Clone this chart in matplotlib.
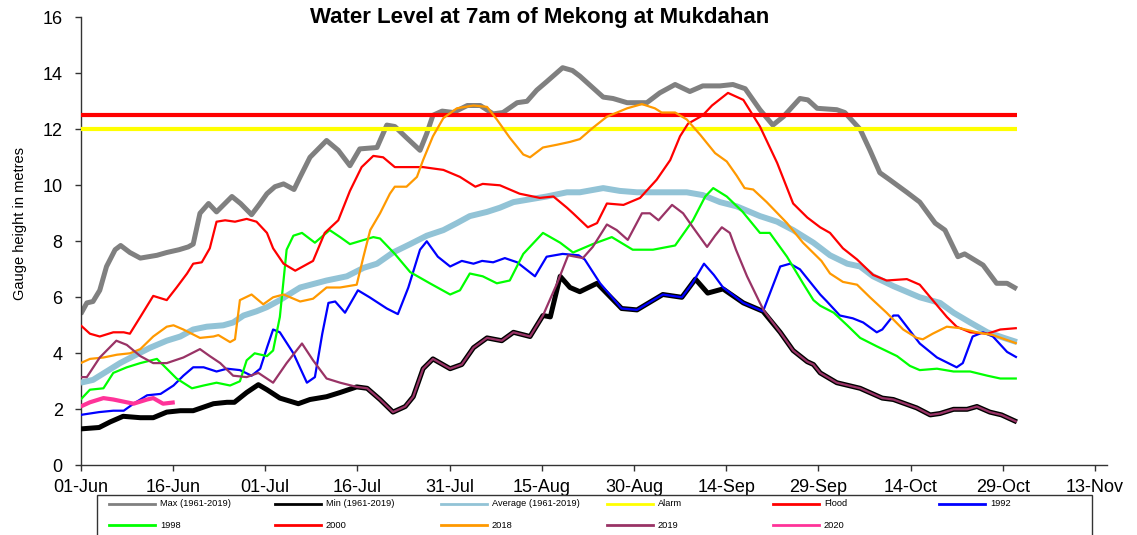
import matplotlib
matplotlib.use("Agg")
import matplotlib.pyplot as plt
from matplotlib.lines import Line2D
from matplotlib.patches import Rectangle

plt.rcParams['font.family'] = ['Liberation Sans', 'DejaVu Sans']

# ---------------- data (x = days since 01-Jun) ----------------
tick_days = [0, 15, 30, 45, 60, 75, 90, 105, 120, 135, 150, 165]
tick_labels = ["01-Jun", "16-Jun", "01-Jul", "16-Jul", "31-Jul", "15-Aug",
               "30-Aug", "14-Sep", "29-Sep", "14-Oct", "29-Oct", "13-Nov"]
y_ticks = [0, 2, 4, 6, 8, 10, 12, 14, 16]

max_days = [0, 1, 2, 3.1, 4.2, 5.6, 6.5, 8, 9.7, 12.4, 14, 16, 17.5, 18.3, 19.4, 20.8, 22.1,
            24.6, 26, 27.8, 29, 30.3, 31.6, 33, 34.7, 35.7, 37.3, 40, 41.9, 43.8, 45.4, 48.2,
            49.8, 51.1, 53, 55.2, 56.3, 57.3, 58.8, 60.6, 62.9, 65, 67.1, 68.7, 71, 72.6, 74.2,
            75.8, 78.4, 80, 81.2, 85, 86.6, 88.9, 92.1, 94.2, 96.7, 99.1, 101.2, 104, 106.1,
            108.1, 110.5, 112.6, 114.3, 117, 118.3, 119.8, 123, 124.3, 126.8, 128.4, 130, 131.6,
            134.4, 136.5, 139, 140.6, 142.7, 143.8, 146.8, 149, 150.7, 152.3]
max_vals = [5.4, 5.8, 5.85, 6.25, 7.1, 7.7, 7.85, 7.6, 7.4, 7.5, 7.6, 7.7, 7.8, 7.9, 9.0, 9.35, 9.05,
            9.6, 9.35, 8.95, 9.3, 9.7, 9.95, 10.05, 9.85, 10.3, 11.0, 11.6, 11.25, 10.7, 11.3, 11.35,
            12.15, 12.1, 11.7, 11.25, 11.85, 12.5, 12.65, 12.6, 12.85, 12.85, 12.55, 12.6, 12.95, 13.0, 13.4,
            13.7, 14.2, 14.1, 13.9, 13.15, 13.1, 12.95, 12.95, 13.3, 13.6, 13.35, 13.55, 13.55, 13.6,
            13.45, 12.7, 12.15, 12.45, 13.1, 13.05, 12.75, 12.7, 12.6, 12.0, 11.25, 10.45, 10.2,
            9.75, 9.4, 8.65, 8.4, 7.45, 7.55, 7.15, 6.5, 6.5, 6.3]

min_days = [0, 3, 4.8, 6.9, 9.7, 11.8, 14, 16.2, 18.3, 21.6, 23.8, 25, 27, 28.9, 30.3, 32.4, 35.4,
            37.3, 40, 42.2, 44.9, 46.6, 48.7, 50.8, 52.8, 54.1, 55.7, 57.3, 60.1, 62, 63.9, 66.1,
            68.5, 70.4, 73.1, 75.2, 76.4, 78, 79.6, 81.2, 84, 88, 90.5, 94.7, 97.8, 100, 102,
            104.5, 107.8, 111, 113.8, 115.9, 118.2, 119.2, 120.3, 123, 126.8, 130.4, 132.2, 136,
            138.2, 139.8, 142, 144.2, 145.8, 147.9, 149.8, 152.3]
min_vals = [1.3, 1.35, 1.55, 1.75, 1.7, 1.7, 1.9, 1.95, 1.95, 2.2, 2.25, 2.25, 2.6, 2.88, 2.7, 2.4, 2.2,
            2.35, 2.45, 2.6, 2.8, 2.75, 2.35, 1.9, 2.1, 2.45, 3.45, 3.8, 3.45, 3.6, 4.2, 4.55,
            4.45, 4.75, 4.6, 5.35, 5.3, 6.75, 6.35, 6.2, 6.5, 5.6, 5.55, 6.1, 6.0, 6.65, 6.15,
            6.3, 5.8, 5.5, 4.75, 4.1, 3.7, 3.6, 3.3, 2.95, 2.75, 2.4, 2.35, 2.05,
            1.8, 1.85, 2.0, 2.0, 2.1, 1.9, 1.8, 1.55]

avg_days = [0, 2, 4.2, 6.4, 8.6, 11.3, 14, 16.2, 18.3, 20.5, 23.2, 24.8, 26.5, 28.6, 30.3, 32.4,
            34.6, 35.7, 40, 43.3, 46, 48.2, 50.8, 53.6, 56.3, 59, 61.2, 63.3, 66.1, 68.2, 70.4,
            73.1, 75.8, 79.1, 81.2, 85, 87.7, 90.5, 94.2, 98.6, 101.2, 104, 106.7, 110.5, 113.3,
            115.9, 119.2, 121.9, 124.7, 126.8, 128.9, 132.2, 136.5, 139.8, 142, 144.7, 147.5,
            150.2, 152.3]
avg_vals = [2.95, 3.05, 3.35, 3.65, 3.9, 4.2, 4.45, 4.6, 4.85, 4.95, 5.0, 5.1, 5.35, 5.5, 5.65, 5.9,
            6.2, 6.35, 6.6, 6.75, 7.05, 7.2, 7.6, 7.9, 8.2, 8.4, 8.65, 8.9, 9.05, 9.2, 9.4,
            9.5, 9.6, 9.75, 9.75, 9.9, 9.8, 9.75, 9.75, 9.75, 9.65, 9.4, 9.25, 8.9, 8.7,
            8.4, 7.95, 7.5, 7.2, 7.1, 6.75, 6.4, 6.0, 5.8, 5.45, 5.1, 4.75,
            4.55, 4.4]

alarm_days = [0, 152.3]
alarm_vals = [12.0, 12.0]
flood_days = [0, 152.3]
flood_vals = [12.5, 12.5]

y1992_days = [0, 3, 5.3, 7, 8.6, 10.8, 13, 15.1, 16.7, 18.3, 20, 22.1, 23.8, 25.9, 27.8, 29.2, 30.3,
              31.3, 32.4, 34.6, 36.8, 38.1, 39.3, 40.3, 41.4, 43, 45.1, 47, 49.8, 51.6, 53.3, 55.2,
              56.3, 58.1, 60.1, 62, 63.9, 65.3, 67.1, 69, 71, 73.9, 75.8, 78.4, 81, 82, 84.5, 88,
              90.5, 94.7, 97.8, 99.5, 101.4, 103, 104.5, 107.8, 111, 113.8, 115.4, 117, 120.3,
              121.4, 123.5, 125.6, 127.3, 129.5, 130.4, 132.2, 133, 134.4, 136.5, 139.3, 142.5,
              143.5, 145.1, 146.8, 148.4, 150.7, 152.3]
y1992_vals = [1.8, 1.9, 1.95, 1.95, 2.2, 2.5, 2.55, 2.85, 3.2, 3.5, 3.5, 3.35, 3.45, 3.4, 3.2, 3.45, 4.2,
              4.85, 4.75, 4.0, 2.95, 3.15, 4.7, 5.8, 5.85, 5.45, 6.25, 6.0, 5.6, 5.4, 6.35, 7.7,
              8.0, 7.45, 7.1, 7.3, 7.2, 7.3, 7.25, 7.4, 7.25, 6.75, 7.45, 7.55, 7.5, 7.35, 6.5, 5.6,
              5.55, 6.1, 6.0, 6.5, 7.2, 6.8, 6.35, 5.8, 5.5, 7.1, 7.2, 7.0, 6.1,
              5.85, 5.35, 5.25, 5.1, 4.75, 4.85, 5.35, 5.35, 4.95, 4.35, 3.85, 3.5,
              3.65, 4.6, 4.75, 4.6, 4.05, 3.85]

y1998_days = [0, 1.5, 3.7, 5.3, 7.5, 9.7, 12.4, 14, 15.6, 18.1, 20, 22.1, 24.3, 25.9, 27, 28.3, 30.3,
              31.3, 32.4, 33.5, 34.6, 36, 38.1, 40.5, 42.2, 43.8, 47.6, 48.7, 51.1, 53.6, 56.8, 60.1,
              61.7, 63.3, 65.4, 67.7, 69.8, 72, 75.2, 78, 80.1, 83.3, 86.4, 89.8, 93.1, 96.7, 99.6,
              101.6, 102.9, 105.1, 107.7, 110.5, 112.1, 114.9, 117.5, 119.2, 120.3, 122.5, 124.7,
              126.8, 129.5, 132.8, 134.9, 136.5, 139.3, 142, 144.7, 147.5, 149.6, 152.3]
y1998_vals = [2.35, 2.7, 2.75, 3.3, 3.5, 3.65, 3.8, 3.45, 3.1, 2.75, 2.85, 2.95, 2.85, 3.0, 3.75, 4.0, 3.9,
              4.1, 5.3, 7.7, 8.2, 8.3, 7.95, 8.4, 8.15, 7.9, 8.15, 8.1, 7.55, 6.9, 6.5, 6.1,
              6.25, 6.85, 6.75, 6.5, 6.6, 7.55, 8.3, 7.95, 7.6, 7.9, 8.15, 7.7, 7.7, 7.85, 8.75,
              9.6, 9.9, 9.6, 9.05, 8.3, 8.3, 7.45, 6.5, 5.9, 5.7, 5.45, 5.0,
              4.55, 4.25, 3.9, 3.55, 3.4, 3.45, 3.35, 3.35, 3.2, 3.1, 3.1]

y2000_days = [0, 1.5, 3.1, 5.3, 7, 8, 9.7, 11.8, 14, 15.6, 17.3, 18.3, 19.7, 21, 22.1, 23.5, 25.1, 27,
              28.6, 30.3, 31.3, 33, 34.9, 37.8, 39.7, 41.9, 43.8, 45.7, 47.6, 49.2, 51.1, 53, 55.7,
              59, 61.7, 64.2, 65.4, 68.2, 71.4, 74.7, 76.9, 79.1, 80.1, 82.5, 84, 85.6, 88.3, 91,
              93.7, 95.9, 97.5, 98.8, 101.2, 102.7, 105.3, 107.8, 110.5, 113.3, 115.9, 118.2, 120.3,
              121.9, 124, 126.3, 128.9, 131.1, 134.4, 136.5, 138.6, 140.9, 142.5, 144.7, 147.5,
              149.6, 152.3]
y2000_vals = [5.0, 4.7, 4.6, 4.75, 4.75, 4.7, 5.3, 6.05, 5.9, 6.35, 6.85, 7.2, 7.25, 7.75, 8.7, 8.75, 8.7, 8.8,
              8.7, 8.3, 7.75, 7.2, 6.95, 7.3, 8.3, 8.75, 9.8, 10.65, 11.05, 11.0, 10.65, 10.65, 10.65,
              10.55, 10.3, 9.95, 10.05, 10.0, 9.7, 9.55, 9.6, 9.2, 9.0, 8.5, 8.65, 9.35, 9.3, 9.55,
              10.2, 10.9, 11.75, 12.2, 12.5, 12.85, 13.3, 13.05, 12.1, 10.8, 9.35, 8.85, 8.5,
              8.3, 7.75, 7.35, 6.8, 6.6, 6.65, 6.45, 5.9, 5.3, 4.95, 4.75, 4.7,
              4.85, 4.9]

y2018_days = [0, 1.5, 3.7, 5.9, 8, 9.7, 11.8, 14, 15.1, 16.7, 19.4, 21.6, 22.4, 24.3, 25.1, 25.9, 27.8,
              29.7, 31.3, 33, 35.7, 37.8, 40, 42.2, 44.9, 46, 47.1, 48.7, 50.3, 51.1, 53, 54.7, 55.7,
              57.3, 59, 61.2, 63.9, 66.1, 67.7, 69.8, 72, 73.1, 75.2, 77.5, 79.6, 81.2, 83.3, 85.6,
              88.9, 91.3, 93.4, 94.5, 96.7, 98.6, 100.8, 103.2, 105.1, 106.7, 108, 109.4, 111.6,
              114.9, 117.5, 120.5, 121.9, 124, 126.3, 128.4, 131.1, 133.8, 136, 137, 138.6, 140.9,
              143, 145.8, 148.4, 152.3]
y2018_vals = [3.65, 3.8, 3.85, 3.95, 4.0, 4.15, 4.6, 4.95, 5.0, 4.85, 4.55, 4.6, 4.65, 4.4, 4.5, 5.9, 6.1,
              5.75, 6.0, 6.1, 5.85, 5.95, 6.35, 6.35, 6.45, 7.45, 8.4, 9.0, 9.7, 9.95, 9.95, 10.3, 10.9,
              11.75, 12.4, 12.75, 12.85, 12.8, 12.35, 11.7, 11.1, 11.0, 11.35, 11.45, 11.55, 11.65, 12.05, 12.45,
              12.75, 12.9, 12.75, 12.6, 12.6, 12.35, 11.8, 11.15, 10.85, 10.35, 9.9, 9.85, 9.4,
              8.65, 7.95, 7.3, 6.85, 6.55, 6.45, 6.0, 5.45, 4.85, 4.55, 4.5, 4.7, 4.95,
              4.9, 4.75, 4.65, 4.35]

y2019_days = [0, 1, 3.1, 5.8, 7.5, 9.7, 11.8, 14, 16.7, 19.4, 21, 22.7, 24.8, 27, 28.9, 31.3, 33.5,
              36, 37.8, 40, 42.2, 44.9, 46.6, 48.7, 50.8, 52.8, 54.1, 55.7, 57.3, 60.1, 62, 63.9,
              66.1, 68.5, 70.4, 73.1, 75.2, 77.5, 79.3, 81.7, 83.3, 85.6, 87.2, 89, 91.3, 92.6, 94,
              96.2, 98, 99.6, 101.9, 103.2, 104.3, 105.6, 106.6, 108.4, 110.5, 111.2, 113.8, 115.9,
              118.2, 119.2, 120.3, 123, 126.8, 130.4, 132.2, 136, 138.2, 139.8, 142, 144.2, 145.8,
              147.9, 149.8, 152.3]
y2019_vals = [3.15, 3.15, 3.85, 4.45, 4.3, 3.9, 3.65, 3.65, 3.85, 4.15, 3.9, 3.65, 3.2, 3.15, 3.3, 2.95, 3.65,
              4.35, 3.75, 3.1, 2.95, 2.8, 2.75, 2.35, 1.9, 2.1, 2.45, 3.45, 3.8, 3.45, 3.6, 4.2,
              4.55, 4.45, 4.75, 4.6, 5.35, 6.5, 7.5, 7.4, 7.8, 8.6, 8.4, 8.05, 9.0, 9.0, 8.75,
              9.3, 9.0, 8.5, 7.8, 8.2, 8.5, 8.3, 7.7, 6.75, 5.8, 5.5, 4.75, 4.1,
              3.7, 3.6, 3.3, 2.95, 2.75, 2.4, 2.35, 2.05, 1.8, 1.85, 2.0, 2.0, 2.1,
              1.9, 1.8, 1.55]

y2020_days = [0, 1.5, 3.7, 5.3, 7.5, 8.6, 10.8, 11.8, 13.4, 15.3]
y2020_vals = [2.1, 2.25, 2.4, 2.35, 2.25, 2.2, 2.35, 2.4, 2.2, 2.25]

# ---------------- figure ----------------
W, H = 1137, 535
fig = plt.figure(figsize=(W / 100, H / 100), dpi=100)
ax = fig.add_axes([80.7 / W, 1 - 465.3 / H, (1107 - 80.7) / W, (465.3 - 17.3) / H])

series = [
    ("Max (1961-2019)", max_days, max_vals, "#808080", 3.6),
    ("Min (1961-2019)", min_days, min_vals, "#000000", 3.6),
    ("Average (1961-2019)", avg_days, avg_vals, "#92C3D6", 4.3),
    ("Alarm", alarm_days, alarm_vals, "#FFFF00", 3.0),
    ("Flood", flood_days, flood_vals, "#FF0000", 3.0),
    ("1992", y1992_days, y1992_vals, "#0000FF", 1.6),
    ("1998", y1998_days, y1998_vals, "#00FF00", 1.6),
    ("2000", y2000_days, y2000_vals, "#FF0000", 1.6),
    ("2018", y2018_days, y2018_vals, "#FF9900", 1.6),
    ("2019", y2019_days, y2019_vals, "#993366", 1.6),
    ("2020", y2020_days, y2020_vals, "#FF3399", 3.0),
]
for i, (lab, d, v, c, lw) in enumerate(series):
    ax.plot(d, v, color=c, lw=lw, solid_joinstyle="round", solid_capstyle="butt", zorder=2 + i)

ax.set_xlim(0, (1107 - 80.7) / 6.147)
ax.set_ylim(0, 16)
ax.set_xticks(tick_days)
ax.set_xticklabels(tick_labels)
ax.set_yticks(y_ticks)
for s in ["top", "right"]:
    ax.spines[s].set_visible(False)
for s in ["left", "bottom"]:
    ax.spines[s].set_color("#333333")
    ax.spines[s].set_linewidth(1.0)
ax.tick_params(axis="both", direction="out", length=4, width=1, color="#333333",
               labelsize=13, colors="#333333", labelcolor="black")
ax.tick_params(axis="y", pad=9)
ax.tick_params(axis="x", pad=6)

fig.text(540 / W, 1 - 17 / H, "Water Level at 7am of Mekong at Mukdahan",
         ha="center", va="center", fontsize=16, fontweight="bold")
fig.text(20 / W, 1 - 223 / H, "Gauge height in metres", rotation=90,
         ha="center", va="center", fontsize=10.5)

# ---------------- legend (Excel-style fixed grid) ----------------
fig.add_artist(Rectangle((96.7 / W, -0.02), (1092 - 96.7) / W, 0.02 + 1 - 495 / H,
                         transform=fig.transFigure, fill=False, edgecolor="#333333", lw=1.0))
for i, (lab, d, v, c, lw) in enumerate(series):
    col, row = i % 6, i // 6
    x0 = 109 + col * 166
    y = 504 + row * 21
    fig.add_artist(Line2D([x0 / W, (x0 + 46) / W], [1 - y / H, 1 - y / H],
                          transform=fig.transFigure, color=c, lw=2.0))
    fig.text((x0 + 51) / W, 1 - y / H, lab, ha="left", va="center", fontsize=6.7)

fig.savefig("out.png", dpi=100)
